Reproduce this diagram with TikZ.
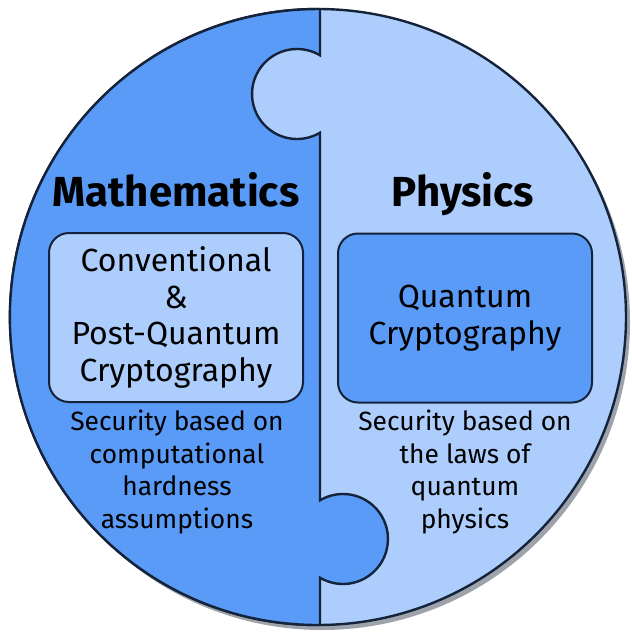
\documentclass[tikz,border=0pt]{standalone}
\usepackage{fontspec}
\setmainfont{Fira Sans}
\definecolor{mathblue}{HTML}{5A9BF7}
\definecolor{physblue}{HTML}{ADCDFD}
\definecolor{edgenavy}{HTML}{15233A}
\definecolor{shadowgray}{HTML}{9EA3AB}

\begin{document}
\begin{tikzpicture}[x=0.5pt,y=-0.5pt,
    piece/.style={draw=edgenavy, line width=1.2pt},
    topicbox/.style={draw=edgenavy, line width=1pt, rounded corners=10pt,
      minimum width=127pt, minimum height=84.5pt, align=center,
      font=\fontsize{16}{18.3}\selectfont},
    title/.style={font=\fontsize{21}{24}\selectfont\bfseries, anchor=base},
    basis/.style={align=center, font=\fontsize{13.2}{16.2}\selectfont}]
    \useasboundingbox (0,0) rectangle (632,633);

    % Shadow and the physics half
    \fill[shadowgray] (322,322) circle (308);
    \filldraw[piece, fill=physblue] (318,317) circle (308);

    % Mathematics half with its two puzzle knobs
    \filldraw[piece, fill=mathblue] (320,9) -- (320,55.3)
      arc[start angle=-59.3, end angle=-300.7, radius=45]
      -- (320,500.3)
      arc[start angle=-120.7, end angle=120.7, radius=45]
      -- (320,625)
      arc[start angle=89.6, end angle=270.4, radius=308] -- cycle;

    % Left side: mathematics
    \node[title] (math) at (176,206) {Mathematics};
    \node[topicbox, fill=physblue] (classical) at (176,317.5)
      {Conventional\\\&\\Post-Quantum\\Cryptography};
    \node[basis] (mathbasis) at (177,472)
      {Security based on\\computational\\hardness\\assumptions};

    % Right side: physics
    \node[title] (phys) at (463,206) {Physics};
    \node[topicbox, fill=mathblue] (quantum) at (465,318)
      {Quantum\\Cryptography};
    \node[basis] (physbasis) at (465,472)
      {Security based on\\the laws of\\quantum\\physics};
\end{tikzpicture}
\end{document}
